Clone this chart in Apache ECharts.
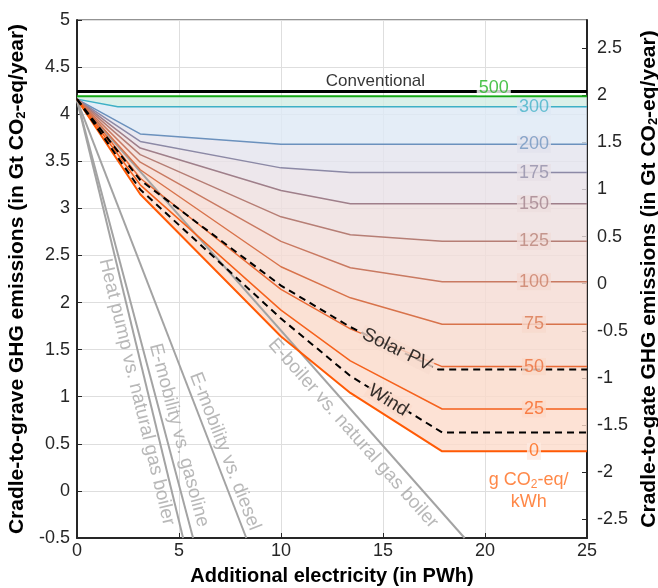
<!DOCTYPE html>
<html>
<head>
<meta charset="utf-8">
<script src="https://cdn.jsdelivr.net/npm/echarts@6/dist/echarts.min.js"></script>
<style>
  html, body { margin: 0; padding: 0; background: #fff; }
  #chart { width: 658px; height: 588px; }
</style>
</head>
<body>
<div id="chart"></div>
<script>
  'use strict'
  var fontName = '"Liberation Sans", Arial, sans-serif';

  /*-----data-----*/
  // additional electricity (PWh) where the curves bend
  var xKnots = [0, 3.1, 10, 13.4, 17.9, 25];
  var xSolar = [0, 3.1, 10, 13.4, 17.7, 25];
  var x300 = [0, 2, 25];
  var xFlat = [0, 25];

  // emissions (Gt CO2-eq/year) per electricity footprint (g CO2-eq/kWh)
  var g500 = [4.19, 4.19];
  var g300 = [4.16, 4.08, 4.08];
  var g200 = [4.16, 3.79, 3.68, 3.68, 3.68, 3.68];
  var g175 = [4.16, 3.71, 3.43, 3.38, 3.38, 3.38];
  var g150 = [4.16, 3.64, 3.19, 3.05, 3.05, 3.05];
  var g125 = [4.16, 3.57, 2.91, 2.72, 2.65, 2.65];
  var g100 = [4.16, 3.49, 2.65, 2.37, 2.22, 2.22];
  var g75 = [4.16, 3.41, 2.38, 2.05, 1.77, 1.77];
  var g50 = [4.16, 3.32, 2.14, 1.72, 1.32, 1.32];
  var g25 = [4.16, 3.25, 1.92, 1.38, 0.87, 0.87];
  var g0 = [4.16, 3.15, 1.64, 1.04, 0.42, 0.42];

  var conventional = [4.24, 4.24];
  var solarPV = [4.16, 3.30, 2.18, 1.74, 1.29, 1.29];
  var wind = [4.16, 3.20, 1.83, 1.22, 0.62, 0.62];

  // single technologies: straight from the start value down to the axis bottom
  var techNames = ['Heat pump vs. natural gas boiler', 'E-mobility vs. gasoline', 'E-mobility vs. diesel', 'E-boiler vs. natural gas boiler'];
  var techStart = [4.15, 4.15, 4.15, 4.15];
  var techEndX = [5.2, 5.69, 8.3, 19.0];
  var techEndY = [-0.5, -0.5, -0.5, -0.5];

  var intensity = ['500', '300', '200', '175', '150', '125', '100', '75', '50', '25', '0'];
  var rightTicks = [-2.5, -2, -1.5, -1, -0.5, 0, 0.5, 1, 1.5, 2, 2.5];

  /*-----styles-----*/
  var lineColors = ['#16a816', '#3eb0c6', '#6b91bd', '#8c89a6', '#9f7f8a', '#b67e75', '#c97a62', '#d8734b', '#e96a35', '#f5621d', '#ff5a05'];
  var labelColors = ['#22b522', '#45b3c8', '#7296c0', '#928ea9', '#a2838d', '#b98379', '#cb7e66', '#da774f', '#eb6e3a', '#f76624', '#ff640f'];
  var bandFill = ['#d2ece3', '#dde9f5', '#e4e4ee', '#e9e1e7', '#eddfdf', '#f1ddd9', '#f5dbd3', '#f8dacd', '#fad9c9', '#fcdbcb'];

  function pairs(xs, ys) {
    return xs.map(function (x, i) { return [x, ys[i]]; });
  }

  var curves = [
    pairs(xFlat, g500), pairs(x300, g300), pairs(xKnots, g200), pairs(xKnots, g175),
    pairs(xKnots, g150), pairs(xKnots, g125), pairs(xKnots, g100), pairs(xKnots, g75),
    pairs(xKnots, g50), pairs(xKnots, g25), pairs(xKnots, g0)
  ];

  var series = [];

  // shaded bands between neighbouring curves
  series.push({
    type: 'custom',
    silent: true,
    z: 1,
    data: bandFill.map(function () { return [0, 4.2]; }),
    renderItem: function (params, api) {
      var i = params.dataIndex;
      var top = curves[i], bot = curves[i + 1];
      var pts = top.map(function (p) { return api.coord(p); });
      for (var k = bot.length - 1; k >= 0; k--) pts.push(api.coord(bot[k]));
      return {
        type: 'polygon',
        shape: { points: pts },
        style: { fill: bandFill[i], opacity: 0.8 }
      };
    }
  });

  // technology lines
  techNames.forEach(function (n, i) {
    series.push({
      name: n,
      type: 'line',
      silent: true,
      showSymbol: false,
      z: 2,
      data: [[0, techStart[i]], [techEndX[i], techEndY[i]]],
      lineStyle: { color: '#a3a3a3', width: 2 }
    });
  });

  series.push({
    name: 'Conventional',
    type: 'line',
    silent: true,
    showSymbol: false,
    z: 4,
    data: pairs(xFlat, conventional),
    lineStyle: { color: '#000', width: 3 }
  });

  curves.forEach(function (c, i) {
    series.push({
      name: intensity[i],
      type: 'line',
      silent: true,
      showSymbol: false,
      z: 3,
      data: c,
      lineStyle: { color: lineColors[i], width: (i === 0 || i === 10) ? 2 : 1.5 }
    });
  });

  series.push({
    name: 'Solar PV',
    type: 'line',
    silent: true,
    showSymbol: false,
    z: 4,
    data: pairs(xSolar, solarPV),
    lineStyle: { color: '#000', width: 2, type: [7, 5] }
  });
  series.push({
    name: 'Wind',
    type: 'line',
    silent: true,
    showSymbol: false,
    z: 4,
    data: pairs(xKnots, wind),
    lineStyle: { color: '#000', width: 2, type: [7, 5] }
  });

  /*-----text labels-----*/
  var labelItems = [];
  function addLabel(pos, text, color, opts) {
    opts = opts || {};
    labelItems.push({
      value: pos,
      label: {
        formatter: text,
        color: color,
        rotate: opts.rotate || 0,
        fontSize: opts.size || 18,
        lineHeight: opts.lineHeight || 17,
        offset: opts.offset || [0, 0],
        backgroundColor: opts.bg || 'transparent',
        padding: opts.bg ? [0, 2, 0, 2] : 0
      }
    });
  }

  addLabel([20.43, g500[1]], '500', labelColors[0], { bg: '#fff', offset: [0, -8], lineHeight: 14 });
  for (var i = 1; i < curves.length; i++) {
    var last = curves[i][curves[i].length - 1];
    addLabel([22.4, last[1]], intensity[i], labelColors[i], { bg: i < 10 ? bandFill[i] : '#fdeae1' });
  }
  addLabel([14.63, conventional[0]], 'Conventional', '#000', { size: 17, offset: [0, -10] });
  addLabel([15.69, 1.50], 'Solar PV', '#000', { rotate: -26, size: 19, bg: '#f8dccf' });
  addLabel([15.25, 0.96], 'Wind', '#000', { rotate: -32, size: 19, bg: '#fbdccd' });
  addLabel([22.14, 0.0], 'g CO{s|2}-eq/\nkWh', '#ff6a1a', { lineHeight: 22 });

  addLabel([2.93, 1.05], techNames[0], '#a6a6a6', { rotate: -76.4, size: 19 });
  addLabel([5.0, 0.59], techNames[1], '#a6a6a6', { rotate: -75.2, size: 19 });
  addLabel([7.25, 0.42], techNames[2], '#a6a6a6', { rotate: -68.9, size: 19 });
  addLabel([13.53, 0.61], techNames[3], '#a6a6a6', { rotate: -48.5, size: 19 });

  series.push({
    type: 'scatter',
    silent: true,
    z: 10,
    symbolSize: 1,
    itemStyle: { color: 'rgba(0,0,0,0)' },
    data: labelItems,
    label: {
      show: true,
      position: 'inside',
      fontFamily: fontName,
      rich: {
        s: { fontSize: 12, color: '#ff6a1a', verticalAlign: 'bottom', lineHeight: 18, fontFamily: fontName }
      }
    }
  });

  var chart = document.getElementById('chart');
  var lineChart = echarts.init(chart);

  var axisText = { fontSize: 18, color: '#262626', fontFamily: fontName };
  var nameStyle = {
    fontSize: 21,
    fontWeight: 'bold',
    color: '#000',
    fontFamily: fontName,
    rich: { s: { fontSize: 13, fontWeight: 'bold', color: '#000', verticalAlign: 'bottom', fontFamily: fontName } }
  };

  var option = {
    animation: false,
    textStyle: { fontFamily: fontName },
    grid: {
      top: 20,
      right: 71,
      bottom: 50,
      left: 77,
      outerBoundsMode: 'none',
      containLabel: false,
      show: true,
      borderColor: '#262626',
      borderWidth: 1,
      backgroundColor: 'transparent'
    },
    xAxis: {
      type: 'value',
      min: 0,
      max: 25,
      interval: 5,
      name: 'Additional electricity (in PWh)',
      nameLocation: 'middle',
      nameGap: 28,
      nameTextStyle: { fontSize: 20, fontWeight: 'bold', color: '#000', fontFamily: fontName },
      axisLine: { onZero: false, lineStyle: { color: '#262626', width: 2 } },
      axisTick: { inside: true, length: 5, lineStyle: { color: '#262626' } },
      axisLabel: Object.assign({ margin: 4 }, axisText),
      splitLine: { lineStyle: { color: '#dedede' } }
    },
    yAxis: [
      {
        type: 'value',
        position: 'left',
        min: -0.5,
        max: 5,
        interval: 0.5,
        name: 'Cradle-to-grave GHG emissions (in Gt CO{s|2}-eq/year)',
        nameLocation: 'middle',
        nameRotate: 90,
        nameGap: 42,
        nameTextStyle: nameStyle,
        axisLine: { show: true, onZero: false, lineStyle: { color: '#262626', width: 2 } },
        axisTick: { show: true, inside: true, length: 5, lineStyle: { color: '#262626' } },
        axisLabel: Object.assign({ margin: 7 }, axisText),
        splitLine: { lineStyle: { color: '#dedede' } }
      },
      {
        type: 'value',
        position: 'right',
        min: -2.7,
        max: 2.8,
        name: 'Cradle-to-gate GHG emissions (in Gt CO{s|2}-eq/year)',
        nameLocation: 'middle',
        nameRotate: 90,
        nameGap: 49,
        nameTextStyle: nameStyle,
        axisLine: { show: true, onZero: false, lineStyle: { color: '#262626', width: 2 } },
        axisTick: { show: true, inside: true, length: 5, customValues: rightTicks, lineStyle: { color: '#262626' } },
        axisLabel: Object.assign({ margin: 10, customValues: rightTicks }, axisText),
        splitLine: { show: false }
      }
    ],
    series: series
  };

  lineChart.setOption(option);
</script>
</body>
</html>
